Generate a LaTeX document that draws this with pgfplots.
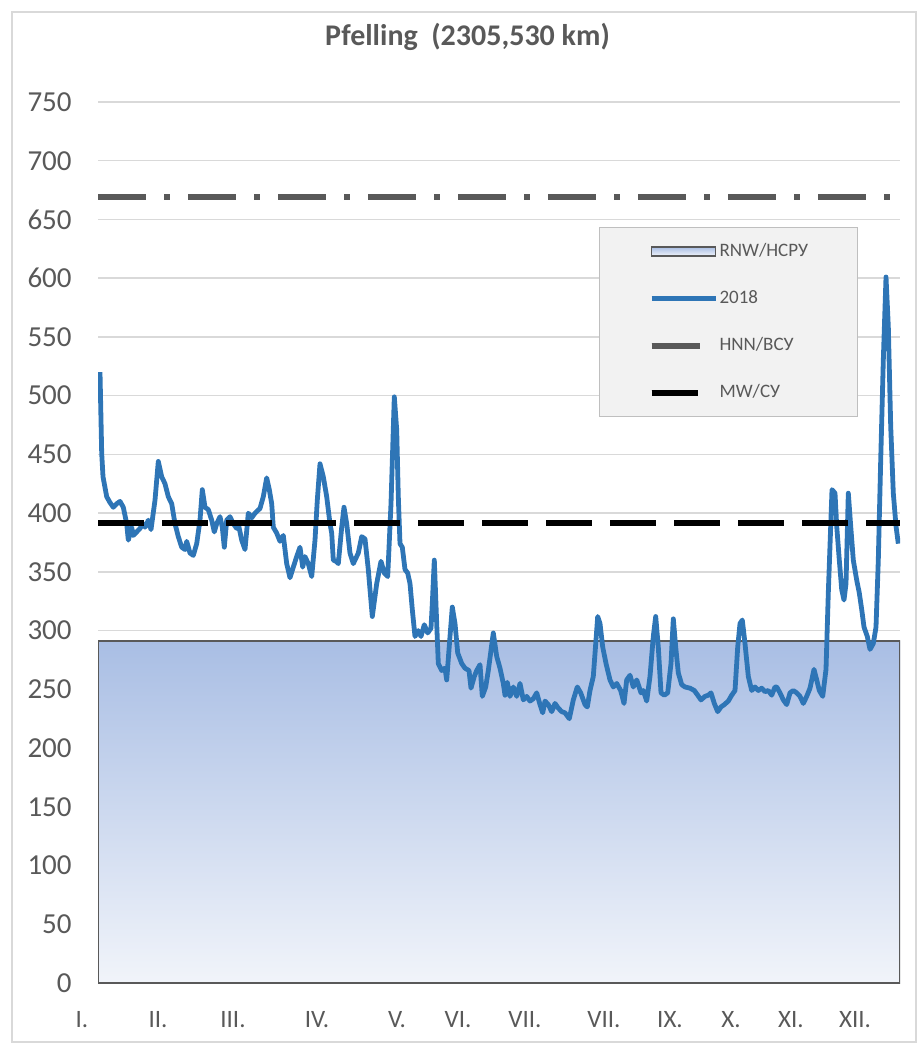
\documentclass[border=0pt]{standalone}
\usepackage{fontspec}
\setmainfont{Carlito}
\usepackage{pgfplots}
\pgfplotsset{compat=1.18}
\definecolor{txt}{HTML}{595959}
\definecolor{gridc}{HTML}{D9D9D9}
\definecolor{legfill}{HTML}{F2F2F2}
\definecolor{legdraw}{HTML}{BFBFBF}
\definecolor{blueline}{HTML}{2E75B6}
\definecolor{hnn}{HTML}{595959}
\definecolor{rnwtop}{HTML}{A9BEE4}
\definecolor{rnwmid}{HTML}{C7D4EE}
\definecolor{rnwbot}{HTML}{F1F4FA}
\definecolor{rnwdraw}{HTML}{595959}
\pgfplotsset{
  rnwleg/.style={legend image code/.code={\draw[##1, line width=0.6pt] (0pt,-2.25pt) rectangle (32pt,2.25pt);}},
  longleg/.style={legend image code/.code={\draw[##1] (0pt,0pt) -- (32pt,0pt);}},
  shortleg/.style={legend image code/.code={\draw[##1, solid, line width=2.5pt] (0pt,0pt) -- (22.5pt,0pt); \path (0pt,0pt) -- (32pt,0pt);}},
}
\begin{document}
\begin{tikzpicture}
\path[use as bounding box] (-49pt,-38.5pt) rectangle (411pt,491.5pt);
\draw[color=gridc, line width=0.9pt] (-43pt,-29.5pt) rectangle (409pt,485.5pt);
\begin{axis}[
  scale only axis, width=401pt, height=440.5pt,
  xmin=98, xmax=900, ymin=0, ymax=750,
  axis line style={draw=none},
  major tick length=0pt,
  ytick={0,50,...,750},
  ymajorgrids, grid style={color=gridc, line width=0.75pt},
  xtick={102,178,253,337,417,478,545,624,690,751,811,875},
  xticklabels={I.,II.,III.,IV.,V.,VI.,VII.,VII.,IX.,X.,XI.,XII.},
  xticklabel style={anchor=center, inner sep=0pt, yshift=-18.5pt, xshift=-10pt, font=\fontsize{12.5}{14}\selectfont, text=txt},
  yticklabel style={anchor=east, inner sep=0pt, xshift=-13pt, font=\fontsize{14.5}{16}\selectfont, text=txt},
  /pgf/number format/assume math mode=true,
  title={Pfelling\ \ (2305,530 km)},
  title style={at={(0.4607,1)}, anchor=base, yshift=22pt, inner sep=0pt, font=\fontsize{15}{18}\selectfont\bfseries, text=txt},
  legend style={at={(0.6247,0.8581)}, anchor=north west, fill=legfill, draw=legdraw, line width=0.5pt,
    inner xsep=24.5pt, inner ysep=7.5pt, row sep=14.5pt, column sep=0.5pt,
    nodes={inner sep=0pt, text height=7pt, text depth=2pt, text=txt, font=\fontsize{9.5}{11}\selectfont}},
  legend cell align=left,
]
\addplot[draw=rnwdraw, line width=0.9pt, top color=rnwtop, middle color=rnwmid, bottom color=rnwbot, rnwleg]
  coordinates {(98,291) (900,291)} \closedcycle;
\addlegendentry{RNW/НСРУ}
\addplot[color=blueline, line width=2.4pt, line join=round, longleg]
  table {
x y
100 520
101.7 451
103 431
106.7 414
110 409
113.3 405
116.7 408
120 410
123.3 405
126.7 391
128.3 377
131.7 388
133.3 381
136.7 384
140 387
143.3 391
145 388
148.3 394
151 386
155 411
158.3 444
161.7 431
165 425
168.3 414
171.7 408
175 391
178.3 380
181.7 371
185 369
186.7 376
190 366
193.3 364
196.7 374
200 394
202.3 420
205 405
208.3 403
211.7 394
214.3 384
216.7 391
220 397
222.3 388
224.3 371
226.7 394
230 397
233.3 391
236.7 387
238.3 391
241.7 377
245 369
248.3 400
251.7 396
255 400
260 404
263.3 414
266.7 430
269.3 420
271.7 408
273.3 388
276.7 383
280 376
283.3 381
286.7 357
290 345
293.3 354
296.7 363
300 371
302.7 354
305 363
308.3 357
311.7 346
315 377
317.3 411
320 442
323.3 431
326.7 414
330 391
331.7 383
333.3 360
336 359
338.3 357
341.7 388
344 405
346.7 391
350 366
353.3 357
358.3 366
361.7 380
365 378
368.3 352
372.3 312
376.7 340
381 359
384.3 349
387.7 346
391 408
394.3 499
396.7 471
398.3 414
400 374
402.3 371
405 352
407.7 349
410 340
412.3 318
415 295
418.3 300
421 295
424.3 305
427.7 298
431 302
432.3 323
434.3 360
436.7 306
438.3 272
441.7 266
445 268
446.7 258
450 295
452.3 320
455 306
457.7 281
461.7 272
465 268
469 266
471 251
474.3 261
476.7 266
480 271
482.3 244
485.7 252
488.3 266
493.3 298
496.7 278
500 268
503.3 255
505 245
507.3 256
510 244
513.3 252
516.7 244
520 255
523.3 241
526.7 244
530 240
533.3 242
536.7 247
540 237
542.7 230
545 240
548.3 237
551.7 231
555 238
558.3 234
561.7 231
565 230
569.3 225
573.3 241
577.3 252
580.7 247
585 237
587.3 235
590 249
593.3 261
596 292
597.7 312
600 306
602.7 286
606 272
610 258
613.3 252
616.7 255
620.7 249
624 238
626.7 258
630 262
633.3 252
636.7 258
641 247
643.3 249
646.7 240
650 261
653.3 295
655.7 312
658.3 286
661 247
664.3 245
667.7 247
671 272
673.3 310
675.7 286
678.3 264
681.7 254
685 252
690 251
694.3 249
697.7 245
701 241
705 244
708.3 245
711 247
714.3 238
717.7 231
721 235
724.3 237
728.3 240
731.7 245
735 249
737.7 286
740 306
742.3 309
745 289
748.3 261
751.7 249
755 252
758.3 249
761.7 251
765 248
768.3 249
771.7 245
775 252
776.7 252
780 247
783.3 241
786.7 237
790 247
793.3 249
796.7 247
800 244
803.3 238
806.7 244
810 251
814 267
816.7 258
819.3 249
822.7 244
826 267
828.3 332
830.7 389
832 420
835 417
836.7 389
839.3 360
841.7 335
844 326
846 340
848.3 417
850.7 389
853.3 360
856.7 343
859.3 332
861.7 318
864 303
867.3 295
870 284
873.3 289
876 303
878.3 360
880.7 445
883.3 530
886 601
888.3 559
890.7 474
893.3 417
896 389
898.3 374
};
\addlegendentry{2018}
\addplot[color=hnn, line width=3pt, dash pattern=on 24pt off 9pt on 3pt off 9pt, shortleg]
  coordinates {(98,669) (900,669)};
\addlegendentry{HNN/ВСУ}
\addplot[color=black, line width=3pt, dash pattern=on 23pt off 9pt, shortleg]
  coordinates {(98,392) (900,392)};
\addlegendentry{MW/СУ}
\end{axis}
\end{tikzpicture}
\end{document}
